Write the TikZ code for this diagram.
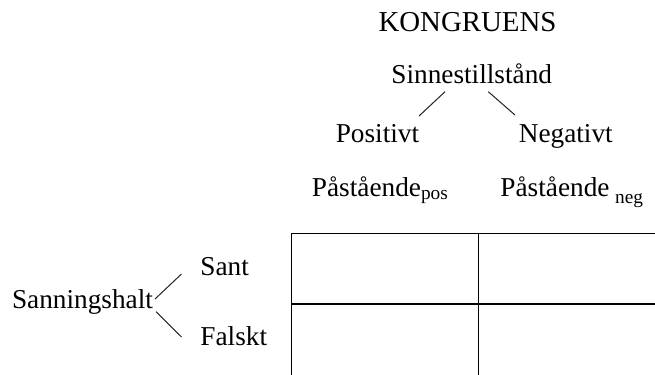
\documentclass[tikz,border=0pt]{standalone}
\usepackage{fontspec}
\setmainfont{Liberation Serif}
\usetikzlibrary{calc}

\tikzset{
	txt/.style={inner sep=0pt, font=\fontsize{12}{14}\selectfont},
	branch/.style={line width=0.45pt, black!85},
	cellline/.style={line width=0.6pt, black}
}
\newcommand{\lowsub}[2]{\raisebox{-#1}{\fontsize{8.5}{10}\selectfont #2}}

\begin{document}
\begin{tikzpicture}[x=0.44pt, y=-0.44pt]
	\path[use as bounding box, clip] (0,0) rectangle (655,374);

	\node[txt, anchor=base, font=\fontsize{12.7}{15}\selectfont] (kong) at (467.5,31.7) {KONGRUENS};
	\node[txt, anchor=base] (sinn) at (471.7,83.3) {Sinnestillstånd};
	\node[txt, anchor=base] (posi) at (377.5,142.5) {Positivt};
	\node[txt, anchor=base] (nega) at (565.8,142) {Negativt};
	\node[txt, anchor=base west] (ppos) at (311.5,196.7) {Påstående\lowsub{1.2pt}{pos}};
	\node[txt, anchor=base west] (pneg) at (500,196.7) {Påstående\hspace{2.5pt}\lowsub{2.9pt}{neg}};

	\node[txt, anchor=base] (sann) at (82.5,308.3) {Sanningshalt};
	\node[txt, anchor=base west] (sant) at (200,275) {Sant};
	\node[txt, anchor=base west] (fals) at (200,345) {Falskt};

	\draw[branch] ($(sinn.base)+(-26.7,8.4)$) -- ($(posi.base)+(41.5,-26.5)$);
	\draw[branch] ($(sinn.base)+(16.6,8.4)$) -- ($(nega.base)+(-50.8,-27)$);
	\draw[branch] ($(sann.base)+(72.5,-9.3)$) -- ($(sant.base west)+(-18.5,-1)$);
	\draw[branch] ($(sann.base)+(73.5,3.4)$) -- ($(fals.base west)+(-18.5,-8)$);

	% table, cut off at the right and bottom
	\draw[cellline] (665,233.3) -| (291.7,380);
	\draw[cellline] (478.3,233.3) -- (478.3,380);
	\draw[cellline] (291.7,304) -- (665,304);
\end{tikzpicture}
\end{document}
